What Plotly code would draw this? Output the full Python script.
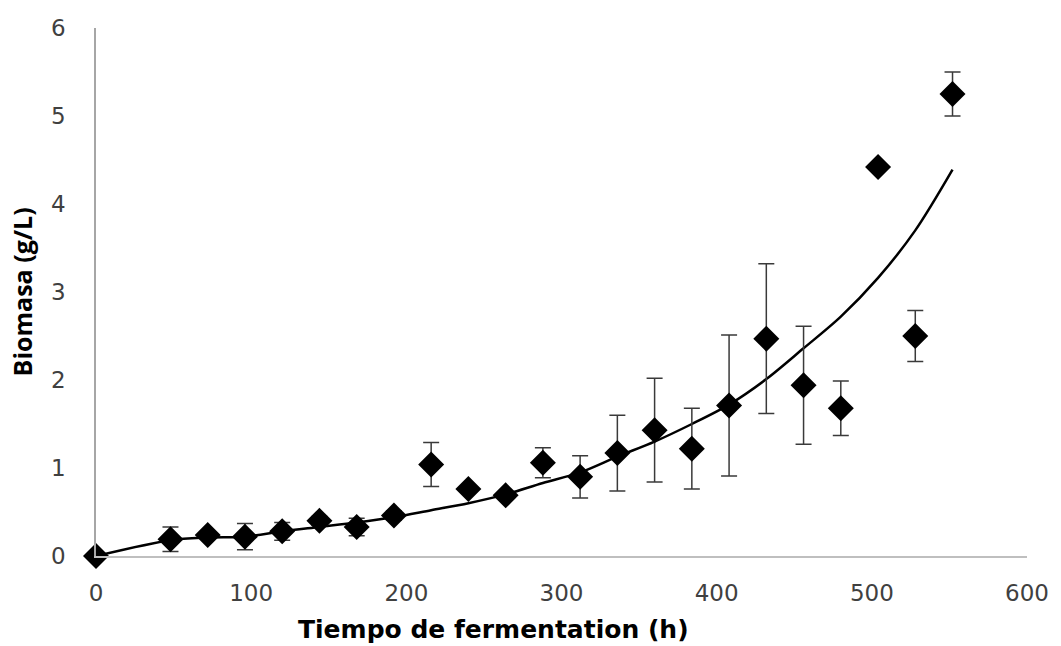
import plotly.graph_objects as go

# Measured biomass (g/L) against fermentation time (h), with standard deviation
tiempo = [0, 48, 72, 96, 120, 144, 168, 192, 216, 240, 264, 288,
          312, 336, 360, 384, 408, 432, 456, 480, 504, 528, 552]
biomasa = [0.00, 0.19, 0.24, 0.22, 0.28, 0.40, 0.33, 0.46, 1.04, 0.76, 0.69, 1.06,
           0.90, 1.17, 1.43, 1.22, 1.71, 2.47, 1.94, 1.68, 4.42, 2.50, 5.25]
desv = [0.00, 0.14, 0.00, 0.15, 0.10, 0.05, 0.10, 0.05, 0.25, 0.00, 0.00, 0.17,
        0.24, 0.43, 0.59, 0.46, 0.80, 0.85, 0.67, 0.31, 0.00, 0.29, 0.25]

# Fitted growth curve
ajuste_t = [0, 48, 72, 96, 120, 144, 168, 192, 216, 240, 264, 288,
            312, 336, 360, 384, 408, 432, 456, 480, 504, 528, 552]
ajuste_y = [0.00, 0.18, 0.21, 0.22, 0.28, 0.33, 0.38, 0.44, 0.52, 0.60, 0.70, 0.83,
            0.95, 1.13, 1.30, 1.50, 1.72, 2.01, 2.36, 2.72, 3.16, 3.70, 4.39]

x_ticks = [0, 100, 200, 300, 400, 500, 600]
y_ticks = [0, 1, 2, 3, 4, 5, 6]

fig = go.Figure()

fig.add_trace(go.Scatter(
    x=ajuste_t, y=ajuste_y, mode="lines",
    line=dict(color="black", width=2.5, shape="spline", smoothing=0.9),
    hoverinfo="skip", showlegend=False, cliponaxis=False,
))

fig.add_trace(go.Scatter(
    x=tiempo, y=biomasa, mode="markers",
    marker=dict(symbol="diamond", size=20, color="black"),
    error_y=dict(type="data", array=desv, visible=True,
                 color="#3a3a3a", thickness=1.5, width=8),
    showlegend=False, cliponaxis=False,
))

tick_font = dict(family="DejaVu Sans", size=23, color="#404040")

fig.update_layout(
    width=1061, height=646,
    margin=dict(l=96, r=29, t=28, b=90),
    paper_bgcolor="white", plot_bgcolor="white",
    xaxis=dict(
        range=[0, 600], tickvals=x_ticks, ticktext=[str(v) for v in x_ticks],
        showgrid=False, zeroline=False, showline=True, linecolor="#BFBFBF",
        linewidth=1.5, ticks="", tickfont=tick_font, ticklabelstandoff=16,
    ),
    yaxis=dict(
        range=[0, 6], tickvals=y_ticks, ticktext=[str(v) for v in y_ticks],
        showgrid=False, zeroline=False, showline=True, linecolor="#A6A6A6",
        linewidth=1.5, ticks="", tickfont=tick_font, ticklabelstandoff=24,
    ),
    annotations=[
        dict(text="<b>Tiempo de fermentation (h)</b>", xref="paper", yref="paper",
             x=(496 - 96) / 936, y=-(629 - 556) / 528, xanchor="center", yanchor="middle",
             showarrow=False,
             font=dict(family="DejaVu Sans", size=25, color="black")),
        dict(text="<b>Biomasa (g/L)</b>", xref="paper", yref="paper",
             x=-(96 - 22) / 936, y=0.5, xanchor="center", yanchor="middle",
             textangle=-90, showarrow=False,
             font=dict(family="Open Sans", size=25, color="black")),
    ],
)

fig.write_html("out.html")
